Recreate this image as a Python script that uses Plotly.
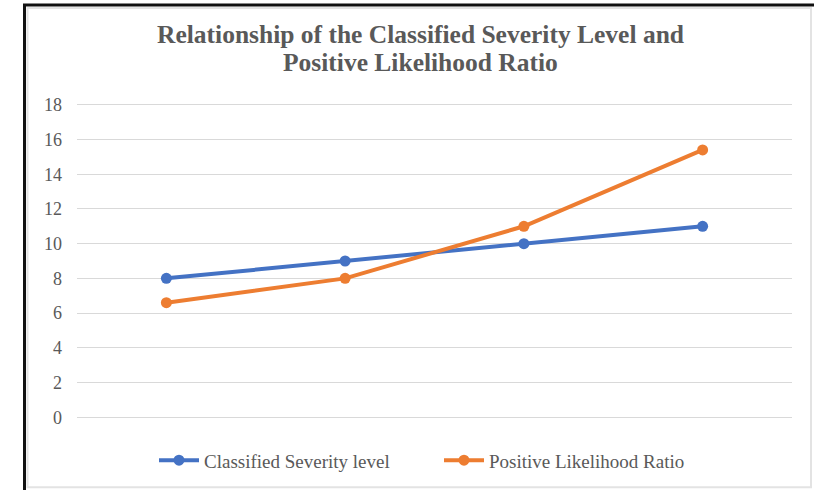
import plotly.graph_objects as go

# Data
categories = [1, 2, 3, 4]
severity_level = [8, 9, 10, 11]
positive_lr = [6.6, 8.0, 11.0, 15.4]
y_ticks = list(range(0, 20, 2))

W, H = 814, 490
# y range padded slightly so the 0 and 18 gridlines are drawn
Y_LO, Y_HI = -0.1, 18.1
PX_PER_UNIT = (418 - 105) / 18.0
TOP_PX = 105 - (Y_HI - 18) * PX_PER_UNIT
BOT_PX = 418 + (0 - Y_LO) * PX_PER_UNIT
L, R = 77, 22
T, B = TOP_PX, H - BOT_PX
PW, PH = W - L - R, H - T - B


def px_x(x):
    return (x - L) / PW


def px_y(y):
    return (H - B - y) / PH


BLUE = "#4472C4"
ORANGE = "#ED7D31"
TEXT = "#595959"
SERIF = "Liberation Serif, Times New Roman, serif"

fig = go.Figure()
fig.add_trace(go.Scatter(
    x=categories, y=severity_level, mode="lines+markers",
    name="Classified Severity level",
    line=dict(color=BLUE, width=4), marker=dict(size=11, color=BLUE),
))
fig.add_trace(go.Scatter(
    x=categories, y=positive_lr, mode="lines+markers",
    name="Positive Likelihood Ratio",
    line=dict(color=ORANGE, width=4), marker=dict(size=11, color=ORANGE),
))

# Chart frame
shapes = [
    dict(type="rect", xref="paper", yref="paper",
         x0=px_x(27.5), x1=px_x(811), y0=px_y(488), y1=px_y(8),
         line=dict(color="#E3E3E3", width=2), fillcolor="rgba(0,0,0,0)"),
    dict(type="line", xref="paper", yref="paper",
         x0=px_x(24.5), x1=px_x(24.5), y0=px_y(492), y1=px_y(4),
         line=dict(color="#111111", width=3)),
    dict(type="line", xref="paper", yref="paper",
         x0=px_x(23), x1=px_x(816), y0=px_y(5), y1=px_y(5),
         line=dict(color="#111111", width=3)),
]

title_lines = ["Relationship of the Classified Severity Level and",
               "Positive Likelihood Ratio"]
annotations = [
    dict(text="<b>%s</b>" % t, xref="paper", yref="paper",
         x=px_x(420), y=px_y(yc), xanchor="center", yanchor="middle",
         showarrow=False, font=dict(family=SERIF, size=25.5, color=TEXT))
    for t, yc in zip(title_lines, [35, 63])
]

fig.update_layout(
    width=W, height=H,
    margin=dict(l=L, r=R, t=T, b=B, pad=0),
    paper_bgcolor="white", plot_bgcolor="white",
    shapes=shapes, annotations=annotations,
    showlegend=True,
    legend=dict(orientation="h", x=px_x(154), xanchor="left",
                y=px_y(460), yanchor="middle",
                font=dict(family=SERIF, size=19, color=TEXT),
                entrywidth=230, entrywidthmode="pixels",
                itemwidth=40, tracegroupgap=0,
                bgcolor="rgba(0,0,0,0)"),
    xaxis=dict(range=[0.5, 4.5], showticklabels=False, showgrid=False,
               zeroline=False, showline=False, ticks=""),
    yaxis=dict(range=[Y_LO, Y_HI], tickvals=y_ticks, showgrid=True,
               gridcolor="#D9D9D9", gridwidth=1.3, zeroline=False,
               showline=False, ticks="", ticklabelstandoff=14,
               tickfont=dict(family=SERIF, size=18, color=TEXT)),
)

fig.write_html("out.html")
